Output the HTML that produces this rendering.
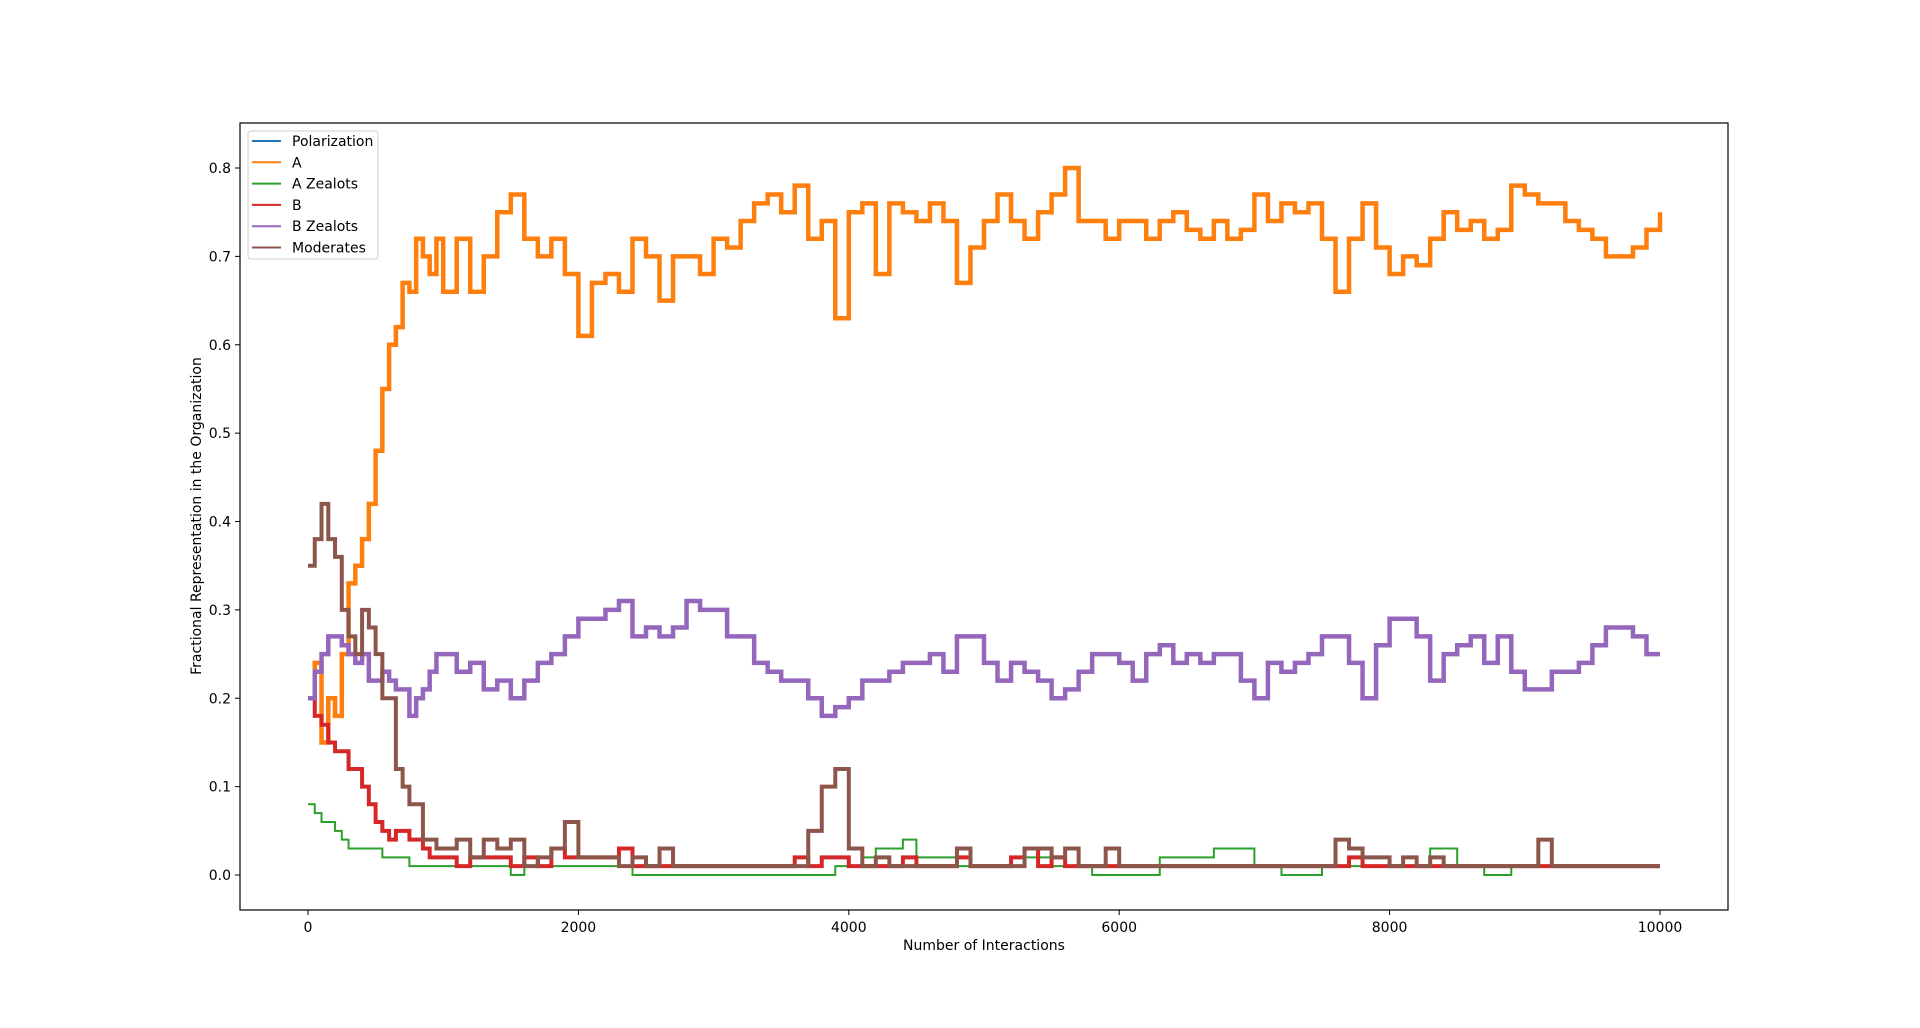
<!DOCTYPE html>
<html><head><meta charset="utf-8"><style>
body{margin:0;background:#fff;width:1920px;height:1023px;overflow:hidden;font-family:"Liberation Sans","DejaVu Sans",sans-serif}
svg text{font-family:"DejaVu Sans","Liberation Sans",sans-serif;fill:#000}
</style></head><body>
<svg id="chart" width="1920" height="1023" xmlns="http://www.w3.org/2000/svg">
<rect x="0" y="0" width="1920" height="1023" fill="#fff"/>
<g id="plot"></g>
<g id="axes"></g>
</svg>
<script>
const xTicks=[0,2000,4000,6000,8000,10000];
const yTicks=[0.0,0.1,0.2,0.3,0.4,0.5,0.6,0.7,0.8];
const seriesNames=["Polarization","A","A Zealots","B","B Zealots","Moderates"];
const seriesColors=["#1f77b4","#ff7f0e","#2ca02c","#d62728","#9467bd","#8c564b"];
const xsEarly=[0,50,100,150,200,250,300,350,400,450,500,550,600,650,700,750,800,850,900,950,1000];
const xsLate=[1100,1200,1300,1400,1500,1600,1700,1800,1900,2000,2100,2200,2300,2400,2500,2600,2700,2800,2900,3000,3100,3200,3300,3400,3500,3600,3700,3800,3900,4000,4100,4200,4300,4400,4500,4600,4700,4800,4900,5000,5100,5200,5300,5400,5500,5600,5700,5800,5900,6000,6100,6200,6300,6400,6500,6600,6700,6800,6900,7000,7100,7200,7300,7400,7500,7600,7700,7800,7900,8000,8100,8200,8300,8400,8500,8600,8700,8800,8900,9000,9100,9200,9300,9400,9500,9600,9700,9800,9900,10000];
const polarization=[];
const seriesA=[.20,.24,.15,.2,.18,.25,.33,.35,.38,.42,.48,.55,.6,.62,.67,.66,.72,.7,.68,.72,.66,
.72,.66,.7,.75,.77,.72,.7,.72,.68,.61,.67,.68,.66,.72,.7,.65,.7,.7,.68,.72,.71,.74,.76,.77,.75,.78,.72,.74,.63,.75,.76,.68,.76,.75,.74,.76,.74,.67,.71,.74,.77,.74,.72,.75,.77,.8,.74,.74,.72,.74,.74,.72,.74,.75,.73,.72,.74,.72,.73,.77,.74,.76,.75,.76,.72,.66,.72,.76,.71,.68,.7,.69,.72,.75,.73,.74,.72,.73,.78,.77,.76,.76,.74,.73,.72,.7,.7,.71,.73,.75];
const seriesAZ=[.08,.07,.06,.06,.05,.04,.03,.03,.03,.03,.03,.02,.02,.02,.02,.01,.01,.01,.01,.01,.01,
.01,.01,.01,.01,0,.01,.01,.01,.01,.01,.01,.01,.01,0,0,0,0,0,0,0,0,0,0,0,0,0,0,0,.01,.01,.02,.03,.03,.04,.02,.02,.02,.01,.01,.01,.01,.02,.02,.02,.01,.01,.01,0,0,0,0,0,.02,.02,.02,.02,.03,.03,.03,.01,.01,0,0,0,.01,.01,.01,.01,.01,.01,.01,.01,.03,.03,.01,.01,0,0,.01,.01,.01,.01,.01,.01,.01,.01,.01,.01,.01,.01];
const seriesB=[.2,.18,.17,.15,.14,.14,.12,.12,.1,.08,.06,.05,.04,.05,.05,.04,.04,.03,.02,.02,.02,
.01,.02,.02,.02,.01,.02,.01,.03,.02,.02,.02,.02,.03,.01,.01,.01,.01,.01,.01,.01,.01,.01,.01,.01,.01,.02,.01,.02,.02,.01,.01,.01,.01,.02,.01,.01,.01,.02,.01,.01,.01,.02,.03,.01,.02,.01,.01,.01,.01,.01,.01,.01,.01,.01,.01,.01,.01,.01,.01,.01,.01,.01,.01,.01,.01,.01,.02,.01,.01,.01,.01,.01,.01,.01,.01,.01,.01,.01,.01,.01,.01,.01,.01,.01,.01,.01,.01,.01,.01,.01];
const seriesBZ=[.2,.23,.25,.27,.27,.26,.25,.24,.25,.22,.22,.23,.22,.21,.21,.18,.2,.21,.23,.25,.25,
.23,.24,.21,.22,.2,.22,.24,.25,.27,.29,.29,.3,.31,.27,.28,.27,.28,.31,.3,.3,.27,.27,.24,.23,.22,.22,.2,.18,.19,.2,.22,.22,.23,.24,.24,.25,.23,.27,.27,.24,.22,.24,.23,.22,.2,.21,.23,.25,.25,.24,.22,.25,.26,.24,.25,.24,.25,.25,.22,.2,.24,.23,.24,.25,.27,.27,.24,.2,.26,.29,.29,.27,.22,.25,.26,.27,.24,.27,.23,.21,.21,.23,.23,.24,.26,.28,.28,.27,.25,.25];
const seriesMod=[.35,.38,.42,.38,.36,.3,.27,.25,.3,.28,.25,.2,.2,.12,.1,.08,.08,.04,.04,.03,.03,
.04,.02,.04,.03,.04,.01,.02,.03,.06,.02,.02,.02,.01,.02,.01,.03,.01,.01,.01,.01,.01,.01,.01,.01,.01,.01,.05,.1,.12,.03,.01,.02,.01,.01,.01,.01,.01,.03,.01,.01,.01,.01,.03,.03,.02,.03,.01,.01,.03,.01,.01,.01,.01,.01,.01,.01,.01,.01,.01,.01,.01,.01,.01,.01,.01,.04,.03,.02,.02,.01,.02,.01,.02,.01,.01,.01,.01,.01,.01,.01,.04,.01,.01,.01,.01,.01,.01,.01,.01,.01];

const NS="http://www.w3.org/2000/svg";
const L=240,R=1728,T=123,B=910;
const X0=308,X1=1660;
function xs(v){return X0+(v/10000)*(X1-X0);}
function ys(v){return 875-v*(875-168)/0.8;}
const xsAll=xsEarly.concat(xsLate);
const plot=document.getElementById('plot');
const axes=document.getElementById('axes');
function mk(tag,attrs,parent){const e=document.createElementNS(NS,tag);for(const k in attrs)e.setAttribute(k,attrs[k]);parent.appendChild(e);return e;}

const allSeries=[polarization,seriesA,seriesAZ,seriesB,seriesBZ,seriesMod];
const seriesKeys=["polarization","a","a-zealots","b","b-zealots","moderates"];
const widths=[2,4.5,2,4,4.5,4];
allSeries.forEach((vals,si)=>{
  if(!vals.length)return;
  let d="M"+xs(xsAll[0])+","+ys(vals[0]);
  for(let i=1;i<vals.length;i++){d+=" H"+xs(xsAll[i])+" V"+ys(vals[i]);}
  const p=mk('path',{d:d,fill:'none',stroke:seriesColors[si],'stroke-width':widths[si],'stroke-linejoin':'miter'},plot);
  
  
});

const frame=mk('rect',{x:L,y:T,width:R-L,height:B-T,fill:'none',stroke:'#000','stroke-width':1.2},axes);


xTicks.forEach(t=>{
  const x=xs(t);
  mk('line',{x1:x,y1:B,x2:x,y2:B+5,stroke:'#000','stroke-width':1},axes);
  const tx=mk('text',{x:x,y:B+22,'text-anchor':'middle','font-size':14},axes);
  tx.textContent=t;
  
  
});
yTicks.forEach(t=>{
  const y=ys(t);
  mk('line',{x1:L-5,y1:y,x2:L,y2:y,stroke:'#000','stroke-width':1},axes);
  const tx=mk('text',{x:L-9,y:y+5,'text-anchor':'end','font-size':14},axes);
  tx.textContent=t.toFixed(1);
  
  
});
const xt=mk('text',{x:(L+R)/2,y:950,'text-anchor':'middle','font-size':14},axes);
xt.textContent="Number of Interactions";


const yt=mk('text',{x:0,y:0,'text-anchor':'middle','font-size':14,transform:'translate(201,516) rotate(-90)'},axes);
yt.textContent="Fractional Representation in the Organization";



const lg=mk('g',{},axes);


mk('rect',{x:248,y:131,width:130,height:128,rx:3,fill:'#fff','fill-opacity':0.8,stroke:'#ccc','stroke-width':1},lg);
seriesNames.forEach((n,i)=>{
  const y=141+i*21.3;
  const ent=mk('g',{},lg);
  
  
  mk('line',{x1:252,y1:y,x2:281,y2:y,stroke:seriesColors[i],'stroke-width':2},ent);
  const t=mk('text',{x:292,y:y+5,'font-size':14},ent);
  t.textContent=n;
});
</script>
</body></html>
